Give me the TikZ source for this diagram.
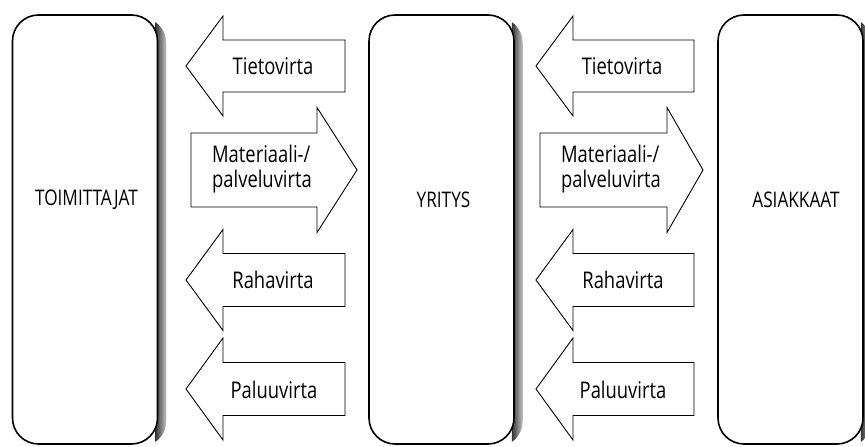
\documentclass[tikz,border=0pt]{standalone}
\usepackage{fontspec}
\setmainfont{Open Sans}[FakeStretch=0.8]
\usetikzlibrary{backgrounds}

% block arrow pointing left: tip x, head back x, shaft end x, centre y, half head, half shaft
\newcommand\flowleft[6]{%
  \draw[flowarrow] (#1,#4) -- (#2,#4-#5) -- (#2,#4-#6) -- (#3,#4-#6)
    -- (#3,#4+#6) -- (#2,#4+#6) -- (#2,#4+#5) -- cycle;}
% block arrow pointing right: shaft start x, head base x, tip x, centre y, half head, half shaft
\newcommand\flowright[6]{%
  \draw[flowarrow] (#3,#4) -- (#2,#4-#5) -- (#2,#4-#6) -- (#1,#4-#6)
    -- (#1,#4+#6) -- (#2,#4+#6) -- (#2,#4+#5) -- cycle;}
% soft shadow strip along the right side of a party box
\newcommand\partyshadow[1]{%
  \begin{scope}
    \clip[rounded corners=26pt] ([shift={(8,3)}]#1.north west) rectangle ([shift={(8,2)}]#1.south east);
    \shade[left color=black!80, right color=black!12]
      ([shift={(-3,0)}]#1.north east) rectangle ([shift={(10,4)}]#1.south east);
  \end{scope}}

\tikzset{
  party/.style={draw, line width=1.6pt, fill=white, rounded corners=26pt,
    minimum width=145pt, minimum height=429pt, inner sep=0pt},
  partylabel/.style={inner sep=0pt, font=\fontsize{21.5}{25}\selectfont},
  flowarrow/.style={draw, line width=0.9pt, line join=miter, fill=white},
  flowlabel/.style={inner sep=0pt, align=left, font=\fontsize{23}{25}\selectfont}
}

\begin{document}
\begin{tikzpicture}[x=1pt, y=-1pt]
  \useasboundingbox (0,0) rectangle (865,447);

  % the three parties
  \node[party] (supp) at (85,229.5) {};
  \node[party] (firm) at (441.5,229.5) {};
  \node[party] (cust) at (790.5,229.5) {};
  \node[partylabel] (supplabel) at (86.5,199.5) {TOIMITTAJAT};
  \node[partylabel] (firmlabel) at (443.5,199.5) {YRITYS};
  \node[partylabel] (custlabel) at (796,199.5) {ASIAKKAAT};

  \begin{scope}[on background layer]
    \partyshadow{supp}
    \partyshadow{firm}
    \partyshadow{cust}
  \end{scope}

  % flows between suppliers and the firm
  \flowleft{186}{223}{345}{66}{50}{26}
  \flowright{191}{317}{357}{170}{62.5}{37}
  \flowleft{186}{223}{345}{280}{50.5}{26.5}
  \flowleft{186}{223}{345}{389}{51}{26.5}
  \node[flowlabel] (info1) at (273,66) {Tietovirta};
  \node[flowlabel] (mat1) at (262,169) {Materiaali-/\\palveluvirta};
  \node[flowlabel] (money1) at (273,280) {Rahavirta};
  \node[flowlabel] (ret1) at (274,390) {Paluuvirta};

  % flows between the firm and customers
  \flowleft{536}{573}{694}{66}{50}{26}
  \flowright{540}{667}{703}{170}{62.5}{37}
  \flowleft{536}{573}{694}{280}{50.5}{26.5}
  \flowleft{536}{573}{694}{389}{51}{26.5}
  \node[flowlabel] (info2) at (622,66) {Tietovirta};
  \node[flowlabel] (mat2) at (611,169) {Materiaali-/\\palveluvirta};
  \node[flowlabel] (money2) at (623,280) {Rahavirta};
  \node[flowlabel] (ret2) at (623,390) {Paluuvirta};
\end{tikzpicture}
\end{document}
